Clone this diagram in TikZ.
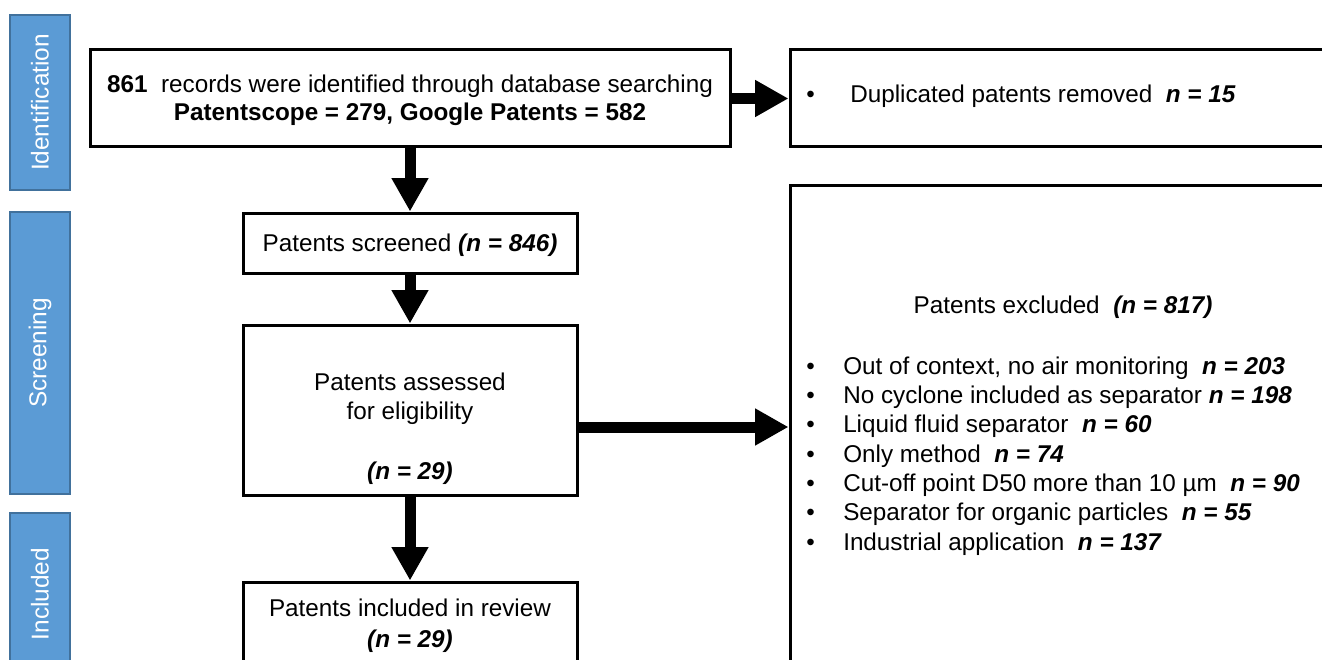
\documentclass[tikz,border=0pt]{standalone}
\usepackage{fontspec}
\setmainfont{Liberation Sans}
\usetikzlibrary{arrows.meta}
\definecolor{stageblue}{HTML}{5B9BD5}
\definecolor{stageedge}{HTML}{41719C}
\newcommand{\nval}[1]{\textbf{\textit{#1}}}
\newcommand{\bitem}{\makebox[27.75pt][l]{\textbullet}}

\begin{document}
\begin{tikzpicture}[x=0.75pt,y=-0.75pt,
	box/.style={draw, line width=2.25pt, inner sep=0pt, align=center, font=\fontsize{18}{21}\selectfont},
	stage/.style={draw=stageedge, fill=stageblue, line width=1.2pt, inner sep=0pt},
	stagetext/.style={text=white, rotate=90, inner sep=0pt, font=\fontsize{18.3}{22}\selectfont},
	txt/.style={inner sep=0pt, align=center, font=\fontsize{18.2}{22}\selectfont},
	flow/.style={line width=8.25pt, -{Triangle[length=25pt,width=26pt]}}]
	\useasboundingbox (0,0) rectangle (1322,660);
	\clip (0,0) rectangle (1322,660);

	% Stages on the left
	\node[stage, minimum width=45pt, minimum height=131.25pt] (ident) at (40,102.5) {};
	\node[stage, minimum width=45pt, minimum height=211.5pt] (screen) at (40,353) {};
	\node[stage, minimum width=45pt, minimum height=121.5pt] (inclbar) at (40,594) {};
	\node[stagetext] (identtxt) at (ident) {Identification};
	\node[stagetext] (screentxt) at (screen) {Screening};
	\node[stagetext] (incltxt) at (inclbar) {Included};

	% Main flow
	\node[box, minimum width=480pt, minimum height=72.75pt] (rec) at (410,98.5) {};
	\node[txt] (rectxt) at (410,100.5)
		{\textbf{861}\ \ records were identified through database searching\\[-1pt]\textbf{Patentscope = 279, Google Patents = 582}};
	\node[box, minimum width=250.5pt, minimum height=45pt] (scr) at (410,243) {};
	\node[txt] (scrtxt) at (410,245) {Patents screened \nval{(n = 846)}};
	\node[box, minimum width=250.5pt, minimum height=127.5pt] (assess) at (410,410) {};
	\node[txt] (assesstxt) at (410,399) {Patents assessed\\for eligibility};
	\node[txt] (assessn) at (410,473) {\nval{(n = 29)}};
	\node[box, minimum width=250.5pt, minimum height=81pt] (incl) at (410,636) {};
	\node[txt] (incltxt) at (410,625.5) {Patents included in review\\[1pt]\nval{(n = 29)}};

	% Exclusions on the right
	\node[box, minimum width=416.25pt, minimum height=72.75pt] (dup) at (1067.5,98.5) {};
	\node[txt, anchor=west] (duptxt) at (806,96) {\makebox[33pt][l]{\textbullet}Duplicated patents removed \ \nval{n = 15}};
	\node[box, minimum width=416.25pt, minimum height=378.75pt] (excl) at (1067.5,437.5) {};
	\node[txt] (excltitle) at (1063,307) {Patents excluded \ \nval{(n = 817)}};
	\node[txt, align=left, anchor=west] (exclist) at (806,456) {%
		\bitem Out of context, no air monitoring \ \nval{n = 203}\\
		\bitem No cyclone included as separator \nval{n = 198}\\
		\bitem Liquid fluid separator \ \nval{n = 60}\\
		\bitem Only method \ \nval{n = 74}\\
		\bitem Cut-off point D50 more than 10 µm \ \nval{n = 90}\\
		\bitem Separator for organic particles \ \nval{n = 55}\\
		\bitem Industrial application \ \nval{n = 137}};

	% Arrows
	\draw[flow] (rec.east) -- (dup.west);
	\draw[flow] (rec.south) -- (scr.north);
	\draw[flow] (scr.south) -- (assess.north);
	\path ([yshift=-12.75pt]assess.east) coordinate (assessout);
	\draw[flow] (assessout) -- (assessout -| excl.west);
	\draw[flow] (assess.south) -- (incl.north);
\end{tikzpicture}
\end{document}
